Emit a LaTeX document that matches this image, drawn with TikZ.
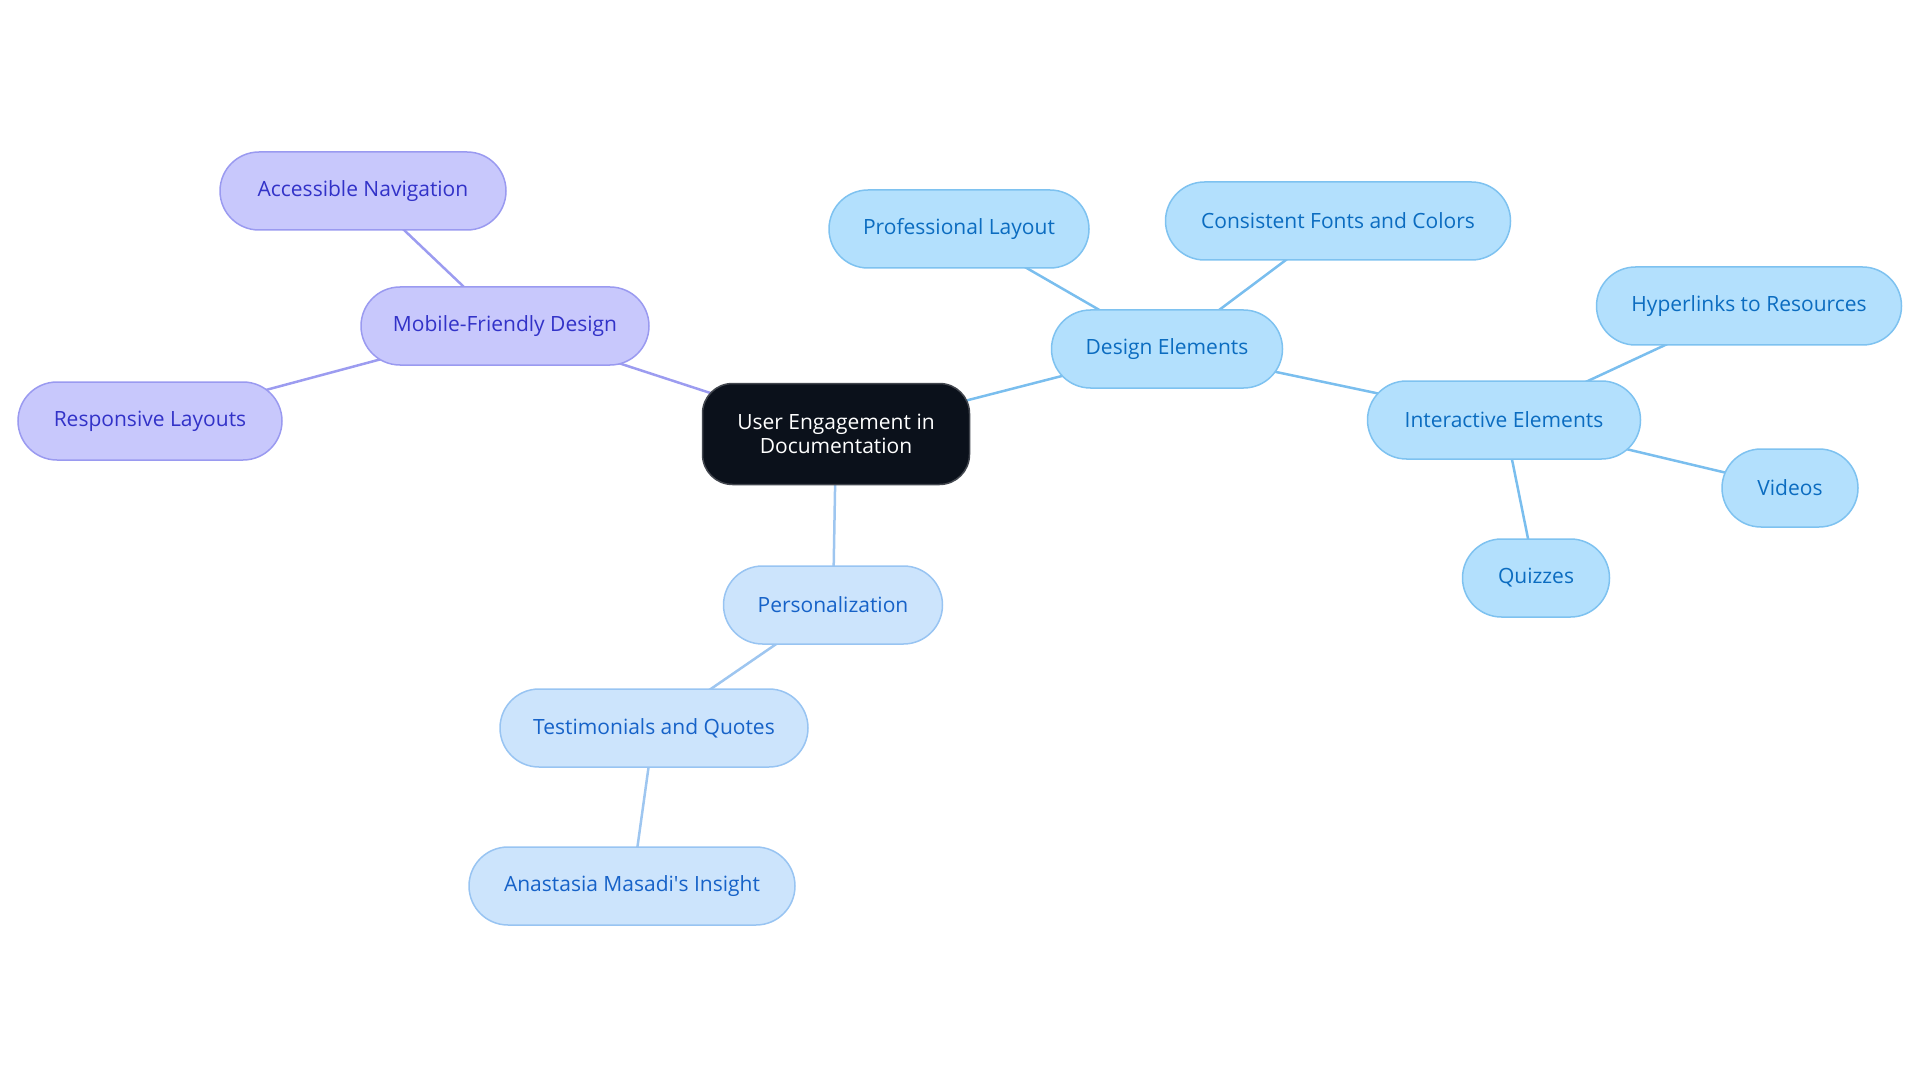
\documentclass[tikz,border=0pt]{standalone}
\usepackage{fontspec}
\setmainfont{Open Sans}
\usepackage{tikz}
\usetikzlibrary{shapes.misc, backgrounds}

\definecolor{rootfill}{HTML}{0B111B}
\definecolor{rootdraw}{HTML}{42464E}
\definecolor{purplefill}{HTML}{C8C8FC}
\definecolor{purpledraw}{HTML}{9A9AF0}
\definecolor{purpletext}{HTML}{3232C8}
\definecolor{purpleline}{HTML}{9C9CF0}
\definecolor{bluefill}{HTML}{B3E0FD}
\definecolor{bluedraw}{HTML}{7EC2F0}
\definecolor{bluetext}{HTML}{0B6CC0}
\definecolor{blueline}{HTML}{7ABEEE}
\definecolor{palefill}{HTML}{CCE4FC}
\definecolor{paledraw}{HTML}{98C4F2}
\definecolor{paletext}{HTML}{1662C8}
\definecolor{paleline}{HTML}{9EC6F0}

\begin{document}
\begin{tikzpicture}[
    x=1pt, y=-1pt,
    % Style for the topic boxes
    topic/.style={
        rounded rectangle,
        draw,
        line width=1.5pt,
        minimum height=78pt,
        inner sep=0pt,
        font=\fontsize{21}{24}\selectfont
    },
    purpletopic/.style={topic, fill=purplefill, draw=purpledraw, text=purpletext},
    bluetopic/.style={topic, fill=bluefill, draw=bluedraw, text=bluetext},
    paletopic/.style={topic, fill=palefill, draw=paledraw, text=paletext},
    % Style for the central box
    root/.style={
        rectangle,
        rounded corners=30pt,
        draw=rootdraw,
        line width=1.5pt,
        fill=rootfill,
        text=white,
        align=center,
        minimum width=267pt,
        minimum height=101pt,
        font=\fontsize{21}{24}\selectfont
    },
    link/.style={line width=2.5pt}
]

    \useasboundingbox (0,0) rectangle (1920,1083);

    % --- Central Node ---
    \node[root] (root) at (836,434) {User Engagement in\\Documentation};

    % --- Design Branch ---
    \node[bluetopic, minimum width=231pt] (design) at (1167,349) {Design Elements};
    \node[bluetopic, minimum width=260pt] (layout) at (959,229) {Professional Layout};
    \node[bluetopic, minimum width=345pt] (fonts) at (1338,221) {Consistent Fonts and Colors};
    \node[bluetopic, minimum width=273pt] (interactive) at (1504,420) {Interactive Elements};
    \node[bluetopic, minimum width=305pt] (links) at (1749,306) {Hyperlinks to Resources};
    \node[bluetopic, minimum width=136pt] (videos) at (1790,488) {Videos};
    \node[bluetopic, minimum width=147pt] (quizzes) at (1536,578) {Quizzes};

    % --- Mobile Branch ---
    \node[purpletopic, minimum width=288pt] (mobile) at (505,326) {Mobile-Friendly Design};
    \node[purpletopic, minimum width=286pt] (navigation) at (363,191) {Accessible Navigation};
    \node[purpletopic, minimum width=264pt] (responsive) at (150,421) {Responsive Layouts};

    % --- Personalization Branch ---
    \node[paletopic, minimum width=219pt] (personal) at (833,605) {Personalization};
    \node[paletopic, minimum width=308pt] (quotes) at (654,728) {Testimonials and Quotes};
    \node[paletopic, minimum width=326pt] (insight) at (632,886) {Anastasia Masadi\textquotesingle s Insight};

    % --- Connectors ---
    \begin{pgfonlayer}{background}
        \foreach \a/\b in {root/design, design/layout, design/fonts, design/interactive,
                           interactive/links, interactive/videos, interactive/quizzes} {
            \draw[link, blueline] (\a.center) -- (\b.center);
        }
        \foreach \a/\b in {root/mobile, mobile/navigation, mobile/responsive} {
            \draw[link, purpleline] (\a.center) -- (\b.center);
        }
        \foreach \a/\b in {root/personal, personal/quotes, quotes/insight} {
            \draw[link, paleline] (\a.center) -- (\b.center);
        }
    \end{pgfonlayer}

\end{tikzpicture}
\end{document}
